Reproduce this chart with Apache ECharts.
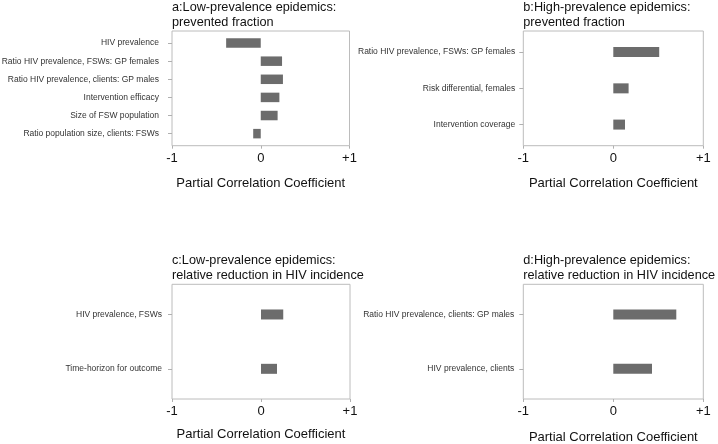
<!DOCTYPE html>
<html>
<head>
<meta charset="utf-8">
<script src="https://cdn.jsdelivr.net/npm/echarts@6/dist/echarts.min.js"></script>
<style>html,body{margin:0;padding:0;background:#fff}#c{width:718px;height:444px}</style>
</head>
<body>
<div id="c"></div>
<script>
// ---- data ----
const titleA = 'a:Low-prevalence epidemics:\nprevented fraction';
const catsA = ['HIV prevalence', 'Ratio HIV prevalence, FSWs: GP females', 'Ratio HIV prevalence, clients: GP males', 'Intervention efficacy', 'Size of FSW population', 'Ratio population size, clients: FSWs'];
const valsA = [-0.39, 0.24, 0.25, 0.21, 0.19, -0.085];

const titleB = 'b:High-prevalence epidemics:\nprevented fraction';
const catsB = ['Ratio HIV prevalence, FSWs: GP females', 'Risk differential, females', 'Intervention coverage'];
const valsB = [0.51, 0.17, 0.13];

const titleC = 'c:Low-prevalence epidemics:\nrelative reduction in HIV incidence';
const catsC = ['HIV prevalence, FSWs', 'Time-horizon for outcome'];
const valsC = [0.25, 0.18];

const titleD = 'd:High-prevalence epidemics:\nrelative reduction in HIV incidence';
const catsD = ['Ratio HIV prevalence, clients: GP males', 'HIV prevalence, clients'];
const valsD = [0.70, 0.43];

const xTickValues = [-1, 0, 1];
const xTickLabels = ['-1', '0', '+1'];
const axisTitle = 'Partial Correlation Coefficient';

// ---- layout ----
const FONT = '"Liberation Sans", Arial, sans-serif';
const panels = [
  {title: titleA, cats: catsA, vals: valsA, left: 172, top: 31, width: 177.5, height: 114.7, labelMargin: 13, barW: 9.5, nameGap: 31},
  {title: titleB, cats: catsB, vals: valsB, left: 523.3, top: 31, width: 180, height: 114.7, labelMargin: 8, barW: 10, nameGap: 31},
  {title: titleC, cats: catsC, vals: valsC, left: 172, top: 284.3, width: 178, height: 114.7, labelMargin: 10, barW: 10, nameGap: 28.5},
  {title: titleD, cats: catsD, vals: valsD, left: 523.3, top: 284.3, width: 180, height: 114.7, labelMargin: 9, barW: 10, nameGap: 31.5}
];
const INSET = 3;

const option = {
  animation: false,
  backgroundColor: '#ffffff',
  title: [], grid: [], xAxis: [], yAxis: [], series: []
};

panels.forEach((p, i) => {
  option.title.push({
    text: p.title, left: p.left, top: p.top - 31, padding: 0,
    textStyle: {fontFamily: FONT, fontSize: 12.7, lineHeight: 14.8, fontWeight: 'normal', color: '#111'}
  });
  // outer box grid
  option.grid.push({left: p.left, top: p.top, width: p.width, height: p.height, show: true,
    borderColor: '#bcbcbc', borderWidth: 1, backgroundColor: 'transparent', outerBoundsMode: 'none'});
  // inner data grid
  option.grid.push({left: p.left, top: p.top + INSET, width: p.width, height: p.height - 2 * INSET,
    show: false, outerBoundsMode: 'none'});
  const og = 2 * i, ig = 2 * i + 1;
  option.xAxis.push({
    type: 'value', gridIndex: og, min: -1, max: 1, interval: 1,
    axisLine: {show: false, onZero: false}, splitLine: {show: false},
    axisTick: {show: true, inside: false, length: 3, lineStyle: {color: '#b0b0b0'}},
    axisLabel: {fontFamily: FONT, fontSize: 13, color: '#111', margin: 6,
      formatter: v => xTickLabels[xTickValues.indexOf(Math.round(v))] ?? ''},
    name: axisTitle, nameLocation: 'middle', nameGap: p.nameGap,
    nameTextStyle: {fontFamily: FONT, fontSize: 13, color: '#111', verticalAlign: 'top'}
  });
  option.yAxis.push({type: 'value', gridIndex: og, show: false, min: 0, max: 1});
  option.xAxis.push({type: 'value', gridIndex: ig, min: -1, max: 1, show: false, axisLine: {onZero: false}});
  option.yAxis.push({
    type: 'category', gridIndex: ig, data: p.cats, inverse: true, position: 'left',
    axisLine: {show: false, onZero: false}, splitLine: {show: false},
    axisTick: {show: true, alignWithLabel: true, length: 4, lineStyle: {color: '#b0b0b0'}},
    axisLabel: {fontFamily: FONT, fontSize: 8.5, color: '#333', margin: p.labelMargin}
  });
  option.series.push({
    type: 'bar', xAxisIndex: 2 * i + 1, yAxisIndex: 2 * i + 1,
    data: p.vals, barWidth: p.barW,
    itemStyle: {color: '#6c6c6c'}
  });
});

const chart = echarts.init(document.getElementById('c'), null, {renderer: 'canvas'});
chart.setOption(option);
</script>
</body>
</html>
